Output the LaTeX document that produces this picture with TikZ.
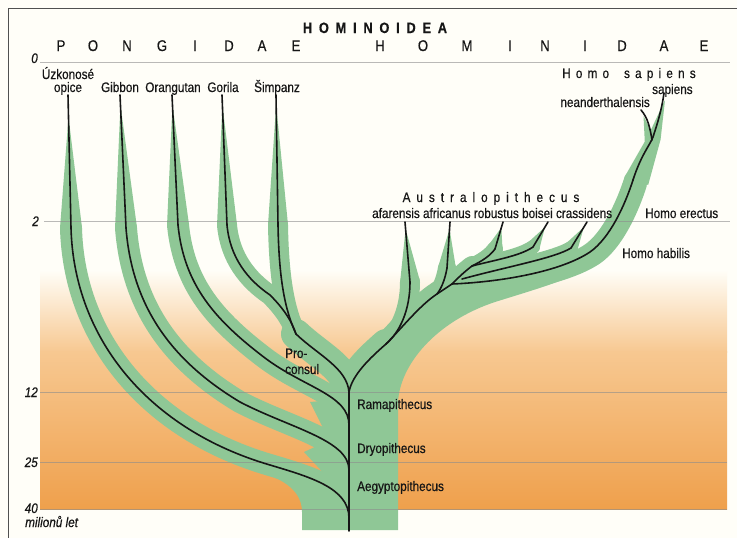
\documentclass[tikz,border=0pt]{standalone}
\usepackage{fontspec}
\newfontfamily\cf{Liberation Sans}[FakeStretch=0.85,FakeBold=0.5]
\usetikzlibrary{calc}
\definecolor{gcol}{RGB}{143,199,150}
\definecolor{ocol}{RGB}{239,160,76}
\definecolor{omid}{RGB}{247,200,145}
\definecolor{bgc}{RGB}{255,254,248}
\definecolor{gline}{RGB}{140,140,140}
\definecolor{ink}{RGB}{22,22,22}
\makeatletter
\newcommand\spc[2]{\def\spc@sep{\hspace{#1}}\spc@loop#2\@nil}
\def\spc@loop#1#2\@nil{#1\ifx\relax#2\relax\else\spc@sep\spc@loop#2\@nil\fi}
\makeatother
\newcommand\tap[4]{\fill[gcol] ($#1!#4!#2$) -- ($#2!#3!90:#1$) -- ($#2!#3!-90:#1$) -- cycle;}
\begin{document}
\begin{tikzpicture}[x=1pt,y=-1pt,
  font=\cf\fontsize{13.8pt}{15pt}\selectfont,
  band/.style={draw=gcol,line width=#1,line cap=round,line join=round},
  blk/.style={draw=ink,line width=1.6pt,line cap=round},
  lbl/.style={inner sep=0pt,text=ink},
  gl/.style={draw=gline,line width=0.7pt,draw opacity=0.6}]
\useasboundingbox (0,0) rectangle (737,538);
\fill[bgc] (0,0) rectangle (737,538);
\shade[top color=bgc,bottom color=omid] (40,270) rectangle (727,352);
\shade[top color=omid,bottom color=ocol] (40,351.5) rectangle (727,509);
\draw[ink!75,line width=1pt] (8,538) -- (8,8) -- (737,8);

% ---- paths
\def\pU{(71,228) .. controls (74,340) and (150,430) .. (270,465) .. controls (310,477) and (349,488) .. (349,518)}
\def\pG{(126,228) .. controls (132,305) and (170,360) .. (240,402) .. controls (290,428) and (349,440) .. (349,470)}
\def\pO{(178,225) .. controls (184,285) and (215,320) .. (265,358) .. controls (305,388) and (349,395) .. (349,425)}
\def\pGo{(227,225) .. controls (230,258) and (248,280) .. (270,295) .. controls (285,310) and (292,322) .. (296,334)}
\def\pS{(278,225) .. controls (279,280) and (285,310) .. (296,334)}
\def\pM{(296,334) .. controls (318,355) and (347,368) .. (349,392)}
\def\pT{(349,531) -- (349,392)}
\def\pStem{(349,392) .. controls (352,375) and (370,358) .. (386,344)}
\def\pAfa{(410,282) .. controls (410,310) and (400,332) .. (386,344)}
\def\pRa{(386,344) .. controls (400,330) and (420,305) .. (437,294) -- (452,284)}
\def\pAfr{(447,268) .. controls (445,280) and (441,289) .. (437,294)}
\def\pRb{(452,284) .. controls (458,278) and (464,272) .. (472,266)}
\def\pRob{(495,249) .. controls (490,256) and (482,261) .. (472,266)}
\def\pBoi{(533,247) .. controls (520,256) and (495,260) .. (472,266)}
\def\pCra{(571,248) .. controls (555,258) and (510,266) .. (462,279)}
\def\pHo{(452,284) .. controls (500,282) and (560,272) .. (590,252) .. controls (610,238) and (625,205) .. (633,180)}
\def\pHtop{(633,180) .. controls (641,155) and (650,145) .. (653,137) .. controls (658,122) and (662,108) .. (664,93)}
\def\pNea{(652,140) .. controls (650,128) and (648,118) .. (641,110)}

% ---- green fills
\fill[gcol] (302,530) -- (302,512) .. controls (302,495) and (290,482) .. (265,474) -- (300,467) -- (330,480) -- (349,490) -- (349,530) -- cycle;
\fill[gcol] (336,395) rectangle (349,530);
\fill[gcol] (310,402) -- (332,400) -- (349,405) -- (349,455) -- (332,446) -- cycle;
\fill[gcol] (304,452) -- (330,440) -- (349,450) -- (349,490) -- (330,480) -- cycle;
\fill[gcol] (398,530) -- (398,402) .. controls (400,365) and (435,322) .. (495,302) .. controls (540,288) and (575,278) .. (597,263) -- (590,252) -- (528,275) -- (452,284) -- (437,294) -- (386,344) -- (349,392) -- (349,530) -- cycle;

% ---- green bands
\draw[band=22pt] \pU;
\draw[band=22pt] \pG;
\draw[band=22pt] \pO;
\draw[band=20pt] \pGo;
\draw[band=20pt] \pS;
\draw[band=30pt] \pM;
\draw[band=30pt] \pStem;
\draw[band=20pt] \pAfa;
\draw[band=24pt] \pRa;
\draw[band=18pt] \pAfr;
\draw[band=20pt] \pRb;
\draw[band=16pt] \pRob;
\draw[band=14pt] \pBoi;
\draw[band=14pt] \pCra;
\draw[band=18pt] \pHo;
\draw[band=18pt,shift={(5,4)}] \pHo;

% ---- tapered tips
\tap{(68,95)}{(71,228)}{11pt}{22pt}
\tap{(120,95)}{(126,228)}{11pt}{10pt}
\tap{(172,95)}{(178,225)}{11pt}{10pt}
\tap{(222,95)}{(227,225)}{10pt}{10pt}
\tap{(276,95)}{(278,225)}{10pt}{10pt}
\tap{(405,222)}{(410,282)}{10pt}{7pt}
\tap{(450,222)}{(447,268)}{9pt}{7pt}
\tap{(503,222)}{(495,249)}{8pt}{6pt}
\tap{(548,222)}{(533,247)}{7pt}{6pt}
\tap{(587,222)}{(571,248)}{7pt}{6pt}
\fill[gcol] (665,100) -- (660.6,139.5) -- (648.2,184.9) -- (624.4,177.3) -- (648.3,135.4) -- cycle;
\fill[gcol] (643.5,116) -- (645,146) -- (656,141) -- cycle;

% ---- time lines
\draw[gl] (40,62) -- (730,62);
\draw[gl] (44,221) -- (730,221);
\draw[gl] (40,392) -- (727,392);
\draw[gl] (40,462) -- (727,462);
\draw[gl] (40,509) -- (727,509);

% ---- black lines
\draw[blk] (68,95) -- (71,228);   \draw[blk] \pU;
\draw[blk] (120,95) -- (126,228); \draw[blk] \pG;
\draw[blk] (172,95) -- (178,225); \draw[blk] \pO;
\draw[blk] (222,95) -- (227,225); \draw[blk] \pGo;
\draw[blk] (276,95) -- (278,225); \draw[blk] \pS;
\draw[blk] \pM;
\draw[blk] \pT;
\draw[blk] \pStem;
\draw[blk] (405,222) -- (410,282); \draw[blk] \pAfa;
\draw[blk] \pRa;
\draw[blk] (450,222) -- (447,268); \draw[blk] \pAfr;
\draw[blk] \pRb;
\draw[blk] (503,222) -- (495,249); \draw[blk] \pRob;
\draw[blk] (548,222) -- (533,247); \draw[blk] \pBoi;
\draw[blk] (587,222) -- (571,248); \draw[blk] \pCra;
\draw[blk] \pHo;
\draw[blk] \pHtop;
\draw[blk] \pNea;

% ---- headers
\node[lbl,anchor=base] (hom) at (375,33) {\bfseries\fontsize{15pt}{17pt}\selectfont\spc{6.8pt}{HOMINOIDEA}};
\foreach \l/\x [count=\i] in {P/61,O/93,N/127,G/162,I/195,D/229,A/262,E/296}
  \node[lbl,anchor=base,font=\cf\fontsize{15.5pt}{17pt}\selectfont] (pg\i) at (\x,51) {\l};
\foreach \l/\x [count=\i] in {H/380,O/423,M/467,I/510,N/545,I/585,D/622,A/664,E/704}
  \node[lbl,anchor=base,font=\cf\fontsize{15.5pt}{17pt}\selectfont] (hm\i) at (\x,51) {\l};

% ---- axis labels
\node[lbl,anchor=base east] (a0) at (38,63) {\itshape 0};
\node[lbl,anchor=base east] (a2) at (39,226) {\itshape 2};
\node[lbl,anchor=base east] (a12) at (38,397) {\itshape 12};
\node[lbl,anchor=base east] (a25) at (38,467) {\itshape 25};
\node[lbl,anchor=base east] (a40) at (38,513) {\itshape 40};
\node[lbl,anchor=base west] (amil) at (25,527) {\itshape milionů let};

% ---- taxa labels
\node[lbl,anchor=base] (uz1) at (68,79) {Úzkonosé};
\node[lbl,anchor=base] (uz2) at (68,92) {opice};
\node[lbl,anchor=base] (gib) at (120,92) {Gibbon};
\node[lbl,anchor=base] (ora) at (173,92) {Orangutan};
\node[lbl,anchor=base] (gor) at (223,92) {Gorila};
\node[lbl,anchor=base] (sim) at (277,92) {Šimpanz};
\node[lbl,anchor=base west] (pro1) at (285,358) {Pro-};
\node[lbl,anchor=base west] (pro2) at (285,374) {consul};
\node[lbl,anchor=base west] (ram) at (357,409) {Ramapithecus};
\node[lbl,anchor=base west] (dry) at (357,453) {Dryopithecus};
\node[lbl,anchor=base west] (aeg) at (357,491) {Aegyptopithecus};
\node[lbl,anchor=base] (aus) at (491,202) {\spc{6pt}{Australopithecus}};
\node[lbl,anchor=base west] (ausp) at (372,218) {afarensis africanus robustus boisei crassidens};
\node[lbl,anchor=base west] (her) at (645,218) {Homo erectus};
\node[lbl,anchor=base west] (hha) at (622,258) {Homo habilis};
\node[lbl,anchor=base west] (hsap) at (562,78) {\spc{5.2pt}{Homo}\hspace{15pt}\spc{5.2pt}{sapiens}};
\node[lbl,anchor=base west] (hss) at (652,94) {sapiens};
\node[lbl,anchor=base east] (hne) at (650,107) {neanderthalensis};
\end{tikzpicture}
\end{document}
